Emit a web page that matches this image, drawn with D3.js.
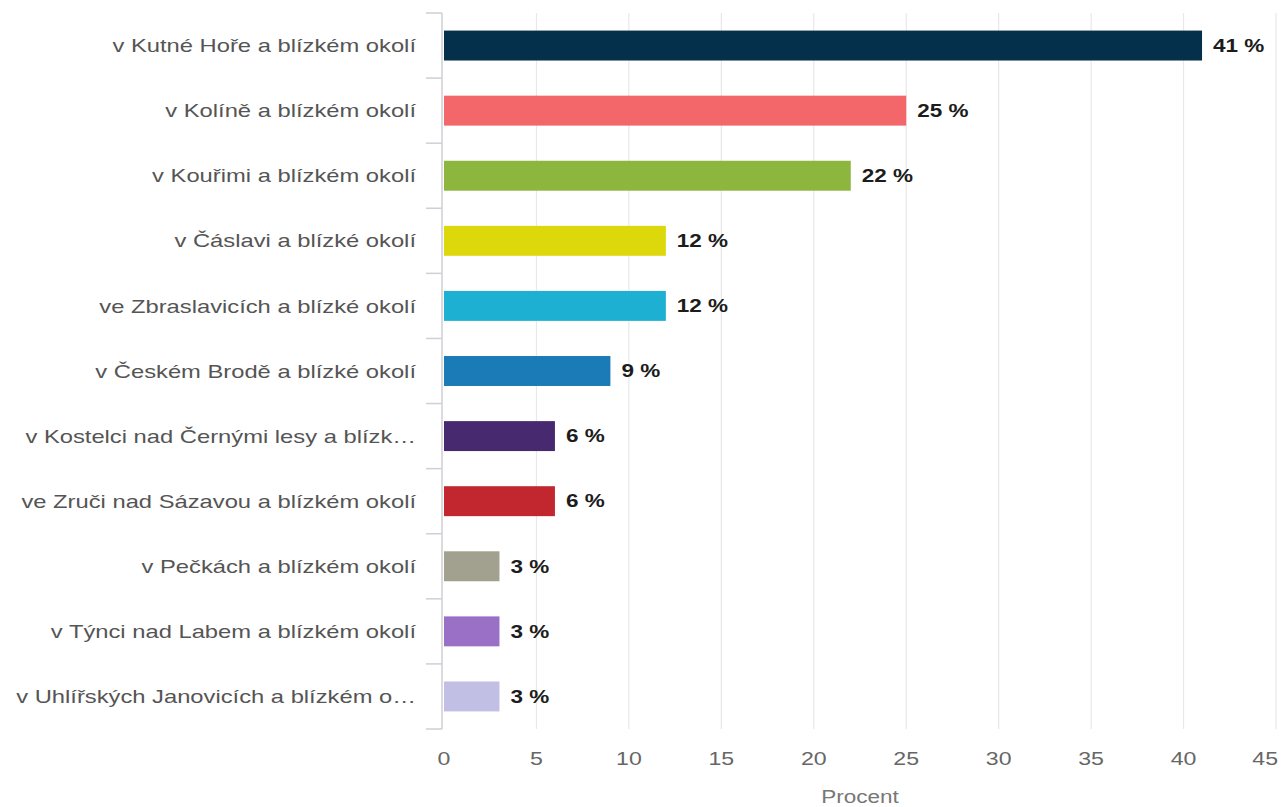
<!DOCTYPE html>
<html>
<head>
<meta charset="utf-8">
<script src="https://cdn.jsdelivr.net/npm/d3@7"></script>
<style>
  html, body { margin: 0; padding: 0; background: #fff; }
  svg { display: block; font-family: "Liberation Sans", Arial, sans-serif; }
</style>
</head>
<body>
<svg id="chart" width="1281" height="807"></svg>
<script>
// Odpovědi: kde respondenti nakupují (procento)
const categories = [
  "v Kutné Hoře a blízkém okolí",
  "v Kolíně a blízkém okolí",
  "v Kouřimi a blízkém okolí",
  "v Čáslavi a blízké okolí",
  "ve Zbraslavicích a blízké okolí",
  "v Českém Brodě a blízké okolí",
  "v Kostelci nad Černými lesy a blízk…",
  "ve Zruči nad Sázavou a blízkém okolí",
  "v Pečkách a blízkém okolí",
  "v Týnci nad Labem a blízkém okolí",
  "v Uhlířských Janovicích a blízkém o…"
];
const values = [41, 25, 22, 12, 12, 9, 6, 6, 3, 3, 3];
const colors = [
  "#05304b", "#f3666a", "#8db63f", "#dcd80b", "#1eb0d3", "#1b7bb6",
  "#46296f", "#c2262e", "#a2a08e", "#9a6fc6", "#c1bfe4"
];
const xTicks = [0, 5, 10, 15, 20, 25, 30, 35, 40, 45];
const xTitle = "Procent";

const W = 1281;
const svg = d3.select("#chart");
const plotTop = 13, plotBottom = 729, plotLeft = 444, plotRight = 1276;
const stretch = 1.25; // text is drawn slightly widened

const x = d3.scaleLinear().domain([0, 45]).range([plotLeft, plotRight]);
const y = d3.scaleBand().domain(categories).range([plotTop, plotBottom])
  .paddingInner(0.54).paddingOuter(0.27);

const place = (px, py) => `translate(${px},${py}) scale(${stretch},1)`;

// vertical gridlines
svg.append("g").selectAll("line").data(xTicks.slice(1)).join("line")
  .attr("x1", d => x(d)).attr("x2", d => x(d))
  .attr("y1", plotTop).attr("y2", plotBottom)
  .attr("stroke", "#e8e8ec").attr("stroke-width", 1.2);

// category axis line and row separators
const bounds = d3.range(categories.length + 1)
  .map(i => plotTop + i * (plotBottom - plotTop) / categories.length);
svg.append("line")
  .attr("x1", plotLeft - 2).attr("x2", plotLeft - 2)
  .attr("y1", plotTop).attr("y2", plotBottom)
  .attr("stroke", "#cfcfd4").attr("stroke-width", 1.5);
svg.append("g").selectAll("line").data(bounds).join("line")
  .attr("x1", plotLeft - 18).attr("x2", plotLeft - 2)
  .attr("y1", d => d).attr("y2", d => d)
  .attr("stroke", "#cfcfd4").attr("stroke-width", 1.5);

// category labels
svg.append("g").selectAll("text").data(categories).join("text")
  .attr("transform", d => place(plotLeft - 28, y(d) + y.bandwidth() / 2))
  .attr("dy", "0.35em")
  .attr("text-anchor", "end")
  .attr("font-size", 19)
  .attr("fill", "#555")
  .text(d => d);

// bars
svg.append("g").selectAll("rect").data(values).join("rect")
  .attr("x", x(0))
  .attr("y", (d, i) => y(categories[i]))
  .attr("width", d => x(d) - x(0))
  .attr("height", y.bandwidth())
  .attr("fill", (d, i) => colors[i]);

// value labels
svg.append("g").selectAll("text").data(values).join("text")
  .attr("transform", (d, i) => place(x(d) + 11, y(categories[i]) + y.bandwidth() / 2))
  .attr("dy", "0.35em")
  .attr("font-size", 18)
  .attr("font-weight", "bold")
  .attr("fill", "#1c1c1c")
  .text(d => d + " %");

// x axis tick labels (the last one is kept inside the canvas)
svg.append("g").selectAll("text").data(xTicks).join("text")
  .attr("font-size", 18.5)
  .attr("fill", "#666")
  .text(d => d)
  .each(function (d) {
    const t = d3.select(this);
    const w = this.getComputedTextLength() * stretch;
    let cx = x(d);
    if (cx + w / 2 > W - 3) cx = W - 3 - w / 2;
    t.attr("text-anchor", "middle").attr("transform", place(cx, 765));
  });

svg.append("text")
  .attr("transform", place((plotLeft + plotRight) / 2, 803))
  .attr("text-anchor", "middle")
  .attr("font-size", 18)
  .attr("fill", "#777")
  .text(xTitle);
</script>
</body>
</html>
